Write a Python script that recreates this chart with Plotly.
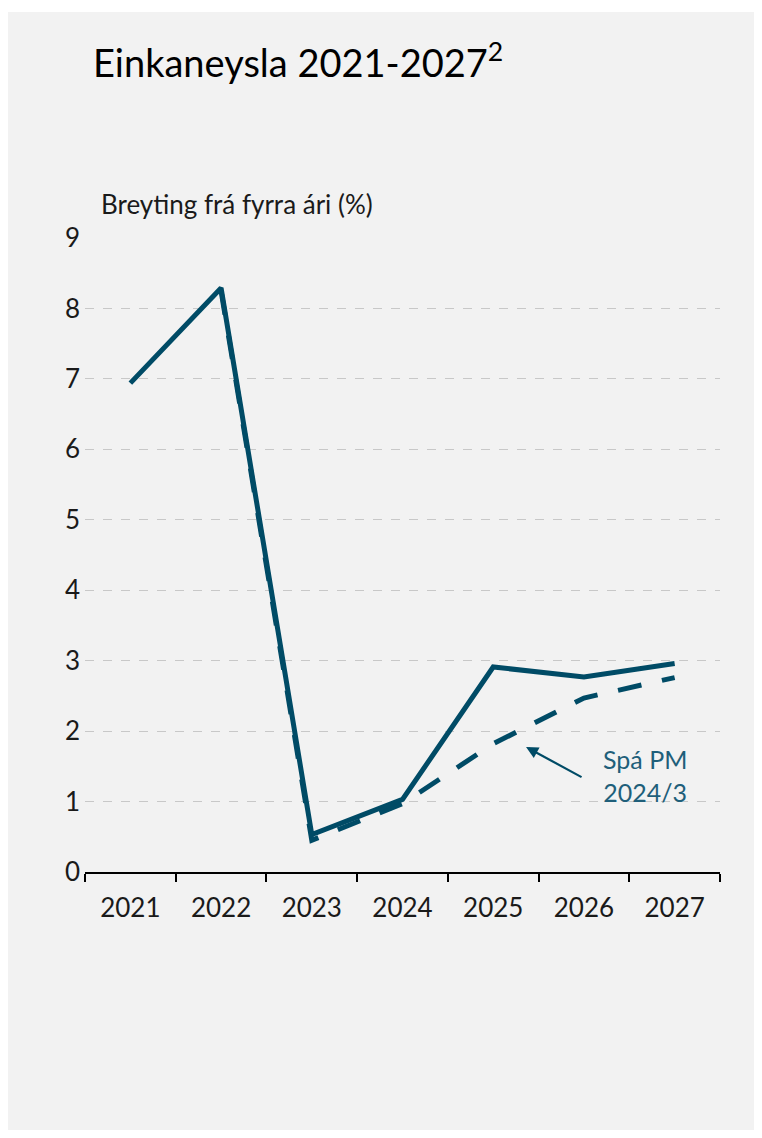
import plotly.graph_objects as go

# =============================================================================
# DATA
# =============================================================================
YEARS = ['2021', '2022', '2023', '2024', '2025', '2026', '2027']
EINKANEYSLA = [6.94, 8.29, 0.53, 1.03, 2.91, 2.77, 2.96]
# Spá PM 2024/3 (starts at 2022)
SPA_YEARS = ['2022', '2023', '2024', '2025', '2026', '2027']
SPA_PM = [8.25, 0.45, 0.97, 1.82, 2.47, 2.76]
Y_TICKS = list(range(0, 10))

LINE_COLOR = '#004b66'
TEXT_COLOR = '#1a1a1a'
NOTE_COLOR = '#1f5f7a'
BG_COLOR = '#f2f2f2'
FONT = 'Lato, Noto Sans, sans-serif'

# =============================================================================
# FIGURE
# =============================================================================
fig = go.Figure()

fig.add_trace(go.Scatter(
    x=SPA_YEARS, y=SPA_PM, mode='lines', name='Spá PM 2024/3',
    line=dict(color=LINE_COLOR, width=5, dash='24px,21px'),
    showlegend=False
))
fig.add_trace(go.Scatter(
    x=YEARS, y=EINKANEYSLA, mode='lines', name='Einkaneysla',
    line=dict(color=LINE_COLOR, width=5),
    showlegend=False
))

# thin white strip along the top edge
fig.add_shape(type='rect', xref='paper', yref='paper', layer='below',
              x0=-0.2, x1=1.2, y0=1.3565, y1=1.4,
              fillcolor='#ffffff', line=dict(width=0))

# Title
fig.add_annotation(text='Einkaneysla 2021-2027<sup>2</sup>', xref='paper', yref='paper',
                   x=0.0094, y=1.2815, xanchor='left', yanchor='middle', showarrow=False,
                   font=dict(size=38, color='#000000', family=FONT))
# Y-axis caption
fig.add_annotation(text='Breyting frá fyrra ári (%)', xref='paper', yref='paper',
                   x=0.022, y=1.0536, xanchor='left', yanchor='middle', showarrow=False,
                   font=dict(size=26, color=TEXT_COLOR, family=FONT))

# Forecast label + arrow
fig.add_annotation(x=4.362, y=1.775, xref='x', yref='y', ax=57, ay=31,
                   text='', showarrow=True, arrowhead=2, arrowsize=1.1,
                   arrowwidth=2.2, arrowcolor=LINE_COLOR)
fig.add_annotation(x=5.673, y=1.363, xref='x', yref='y', text='Spá PM<br>2024/3',
                   showarrow=False, xanchor='center', yanchor='middle', align='center',
                   font=dict(size=25, color=NOTE_COLOR, family=FONT))

fig.update_layout(
    width=746, height=1122,
    margin=dict(l=77, r=34, t=230, b=258),
    paper_bgcolor=BG_COLOR, plot_bgcolor=BG_COLOR,
    font=dict(family=FONT, size=26, color=TEXT_COLOR),
)
fig.update_xaxes(type='category', categoryorder='array', categoryarray=YEARS,
                 showline=True, linecolor='#000000', linewidth=2,
                 ticks='outside', tickson='boundaries', ticklen=8, tickwidth=2,
                 tickcolor='#000000', showgrid=False, ticklabelstandoff=12,
                 tickfont=dict(size=26, color=TEXT_COLOR), range=[-0.5, 6.5])
fig.update_yaxes(range=[0, 9], tickvals=Y_TICKS, showline=False, zeroline=False,
                 showgrid=True, gridcolor='#c8c8c8', griddash='dash', gridwidth=1,
                 ticks='', ticklabelstandoff=4,
                 tickfont=dict(size=26, color=TEXT_COLOR))

fig.write_html("out.html")
